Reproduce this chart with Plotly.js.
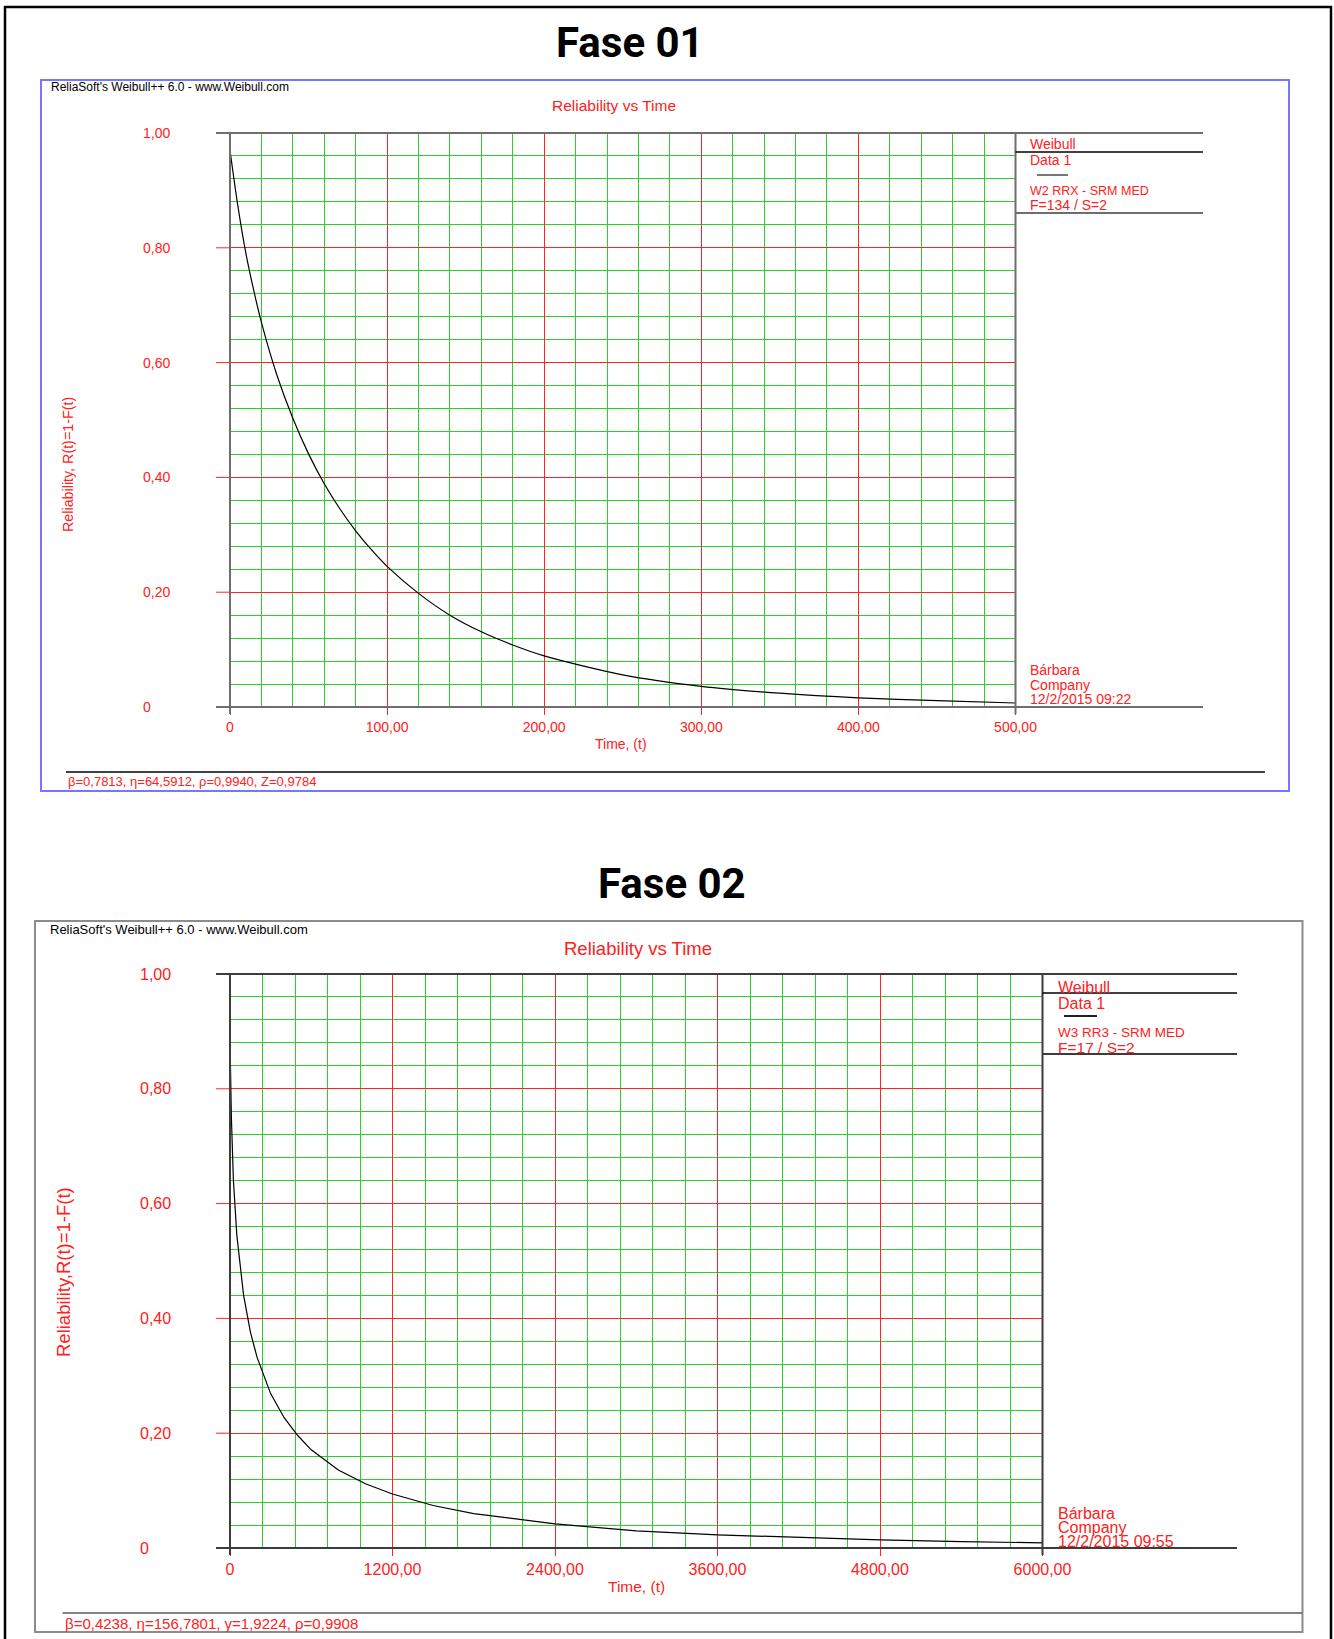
<!DOCTYPE html>
<html>
<head>
<meta charset="utf-8">
<script src="https://cdn.plot.ly/plotly-3.0.1.min.js"></script>
<style>html,body{margin:0;padding:0;background:#fff;}#chart{width:1334px;height:1639px;}</style>
</head>
<body>
<div id="chart"></div>
<script>
// ---------- data ----------
const time1 = [0,5,10,15,20,30,40,50,60,70,80,90,100,120,140,160,180,200,250,300,350,400,450,500];
const rel1  = [0.970,0.873,0.792,0.727,0.670,0.577,0.503,0.441,0.389,0.345,0.307,0.274,0.245,0.198,0.160,0.131,0.108,0.089,0.056,0.036,0.024,0.016,0.011,0.007];

const time2 = [0,5,10,25,50,100,150,200,300,400,500,600,800,1000,1200,1500,1800,2400,3000,3600,4200,4800,5400,6000];
const rel2  = [0.890,0.828,0.752,0.641,0.546,0.441,0.377,0.332,0.269,0.227,0.196,0.171,0.136,0.112,0.094,0.074,0.060,0.042,0.030,0.023,0.018,0.014,0.011,0.009];

const xTickVals1 = [0,100,200,300,400,500];
const xTickText1 = ['0','100,00','200,00','300,00','400,00','500,00'];
const xTickVals2 = [0,1200,2400,3600,4800,6000];
const xTickText2 = ['0','1200,00','2400,00','3600,00','4800,00','6000,00'];
const yTickVals  = [0,0.2,0.4,0.6,0.8,1];
const yTickText  = ['0','0,20','0,40','0,60','0,80','1,00'];

const titles      = ['Fase 01','Fase 02'];
const headerText  = "ReliaSoft's Weibull++ 6.0 - www.Weibull.com";
const chartTitle  = 'Reliability vs Time';
const xTitle      = 'Time, (t)';
const yTitles     = ['Reliability, R(t)=1-F(t)','Reliability,R(t)=1-F(t)'];
const legendLines1 = ['Weibull','Data 1','W2 RRX - SRM MED','F=134 / S=2'];
const legendLines2 = ['Weibull','Data 1','W3 RR3 - SRM MED','F=17 / S=2'];
const footLines1 = ['Bárbara','Company','12/2/2015 09:22'];
const footLines2 = ['Bárbara','Company','12/2/2015 09:55'];
const params1 = 'β=0,7813, η=64,5912, ρ=0,9940, Z=0,9784';
const params2 = 'β=0,4238, η=156,7801, γ=1,9224, ρ=0,9908';

// ---------- layout helpers ----------
const W = 1334, H = 1639;
const px = v => v / W;
const py = v => 1 - v / H;
const RED = '#ff2424', GREEN = '#2fcc2f', TXT = '#ff2020';
const FONT = 'Liberation Sans, Arial, sans-serif';

const shapes = [];
const annotations = [];
function pline(x0, y0, x1, y1, color, width, layer) {
  shapes.push({type:'line', xref:'paper', yref:'paper', x0:px(x0), y0:py(y0), x1:px(x1), y1:py(y1),
    line:{color:color, width:width}, layer: layer || 'above'});
}
function prect(x0, y0, x1, y1, color, width) {
  shapes.push({type:'rect', xref:'paper', yref:'paper', x0:px(x0), y0:py(y0), x1:px(x1), y1:py(y1),
    line:{color:color, width:width}, fillcolor:'rgba(0,0,0,0)', layer:'above'});
}
function ptext(text, x, y, size, color, xanchor, extra) {
  annotations.push(Object.assign({text:text, xref:'paper', yref:'paper', x:px(x), y:py(y),
    xanchor:xanchor || 'left', yanchor:'middle', showarrow:false,
    font:{family:FONT, size:size, color:color}}, extra || {}));
}

// outer frame
prect(5, 7, 1331, 1660, '#000000', 2.5);

// ---------- geometry of the two panels ----------
const P = [
  {xL:230, xR:1015.5, yT:133, yB:707, extL:216, extR:1203, axisCol:'#6e6e6e',
   sep1:152, sep2:213, legX:1028, legY:[144,160,191,205], legSizes:[14,14,12.5,14],
   swatch:[1037,1068,175], footY:[670,685,699], footSize:14,
   titleX:630, titleY:43, box:[41,80,1289,791], boxCol:'#7676ff',
   header:[49,87,12], ctitle:[613.5,106,15.5], tick:14, yLblX:141,
   xTitle:[621,744,14], yTitle:[68,465,14.3], pline:[66,1265,772,'#000000'], params:[66,781,13]},
  {xL:230, xR:1042.5, yT:974, yB:1548, extL:216, extR:1237, axisCol:'#3c3c3c',
   sep1:993, sep2:1054, legX:1056, legY:[987,1003,1032,1047], legSizes:[16,16,13.5,15.5],
   swatch:[1064,1097,1016], footY:[1513,1527,1541], footSize:16,
   titleX:672, titleY:883, box:[35,921,1302.5,1632], boxCol:'#8c8c8c',
   header:[48,929,13], ctitle:[638,948,18.5], tick:16, yLblX:138,
   xTitle:[636.5,1586,15.5], yTitle:[63,1272,18.5], pline:[62.5,1302,1613,'#5a5a5a'], params:[62.5,1623,15]}
];
const legends = [legendLines1, legendLines2];
const foots = [footLines1, footLines2];
const paramsTxt = [params1, params2];

P.forEach((p, i) => {
  const ya = i === 0 ? 'y' : 'y2';
  ptext('<b>' + titles[i] + '</b>', p.titleX, p.titleY, 42, '#000000', 'center',
    {font:{family:'Liberation Sans Narrow, Arial Narrow, Roboto, sans-serif', size:42, color:'#000'}});
  prect(p.box[0], p.box[1], p.box[2], p.box[3], p.boxCol, 2);
  ptext(headerText, p.header[0], p.header[1], p.header[2], '#000000', 'left');
  ptext(chartTitle, p.ctitle[0], p.ctitle[1], p.ctitle[2], TXT, 'center');
  // red horizontal lines extend left of the axis
  yTickVals.slice(1, -1).forEach(v => {
    shapes.push({type:'line', xref:'paper', yref:ya, x0:px(p.extL), x1:px(p.xL), y0:v, y1:v,
      line:{color:RED, width:1}, layer:'below'});
  });
  // frame lines
  pline(p.extL, p.yT, p.extR, p.yT, p.axisCol, 2);
  pline(p.extL, p.yB, p.extR, p.yB, p.axisCol, 2);
  pline(p.xL, p.yT, p.xL, p.yB + 7, p.axisCol, 2);
  pline(p.xR, p.yT, p.xR, p.yB + 7, p.axisCol, 2);
  pline(p.xR, p.sep1, p.extR, p.sep1, '#000000', 1.5);
  pline(p.xR, p.sep2, p.extR, p.sep2, p.axisCol, 2);
  pline(p.swatch[0], p.swatch[2], p.swatch[1], p.swatch[2], i === 0 ? '#777777' : '#222222', 2);
  legends[i].forEach((t, k) => ptext(t, p.legX, p.legY[k], p.legSizes[k], TXT, 'left'));
  foots[i].forEach((t, k) => ptext(t, p.legX, p.footY[k], p.footSize, TXT, 'left'));
  // y tick labels (left aligned)
  yTickVals.forEach((v, k) => {
    annotations.push({text:yTickText[k], xref:'paper', yref:ya, x:px(p.yLblX), y:v,
      xanchor:'left', yanchor:'middle', showarrow:false, font:{family:FONT, size:p.tick, color:TXT}});
  });
  ptext(xTitle, p.xTitle[0], p.xTitle[1], p.xTitle[2], TXT, 'center');
  ptext(yTitles[i], p.yTitle[0], p.yTitle[1], p.yTitle[2], TXT, 'center', {textangle:-90, xanchor:'center'});
  pline(p.pline[0], p.pline[2], p.pline[1], p.pline[2], p.pline[3], 1.5);
  ptext(paramsTxt[i], p.params[0], p.params[1], p.params[2], TXT, 'left');
});

function xAxis(p, vals, text, range, minorStep) {
  return {domain:[px(p.xL), px(p.xR)], range:range, fixedrange:true,
    tickmode:'array', tickvals:vals, ticktext:text,
    showgrid:true, gridcolor:RED, gridwidth:1, zeroline:false, showline:false,
    ticks:'outside', ticklen:7, tickcolor:RED, tickwidth:1, ticklabelstandoff:0,
    tickfont:{family:FONT, size:p.tick, color:TXT},
    minor:{tick0:0, dtick:minorStep, showgrid:true, gridcolor:GREEN, gridwidth:1, ticks:''}};
}
function yAxis(p) {
  return {domain:[py(p.yB), py(p.yT)], range:[0,1], fixedrange:true,
    tickmode:'array', tickvals:yTickVals, showticklabels:false,
    showgrid:true, gridcolor:RED, gridwidth:1, zeroline:false, showline:false, ticks:'',
    minor:{tick0:0, dtick:0.04, showgrid:true, gridcolor:GREEN, gridwidth:1, ticks:''}};
}

const traces = [
  {x:time1, y:rel1, xaxis:'x', yaxis:'y', type:'scatter', mode:'lines',
   line:{color:'#000000', width:1.2, shape:'spline', smoothing:0.8}, hoverinfo:'skip'},
  {x:time2, y:rel2, xaxis:'x2', yaxis:'y2', type:'scatter', mode:'lines',
   line:{color:'#000000', width:1.2}, hoverinfo:'skip'}
];

const layout = {
  width:W, height:H, margin:{l:0, r:0, t:0, b:0},
  paper_bgcolor:'#ffffff', plot_bgcolor:'#ffffff',
  showlegend:false, separators:', ',
  xaxis: xAxis(P[0], xTickVals1, xTickText1, [0,500], 20),
  yaxis: Object.assign(yAxis(P[0]), {anchor:'x'}),
  xaxis2: Object.assign(xAxis(P[1], xTickVals2, xTickText2, [0,6000], 240), {anchor:'y2'}),
  yaxis2: Object.assign(yAxis(P[1]), {anchor:'x2'}),
  shapes: shapes, annotations: annotations
};

Plotly.newPlot('chart', traces, layout, {displayModeBar:false, staticPlot:true});
</script>
</body>
</html>
